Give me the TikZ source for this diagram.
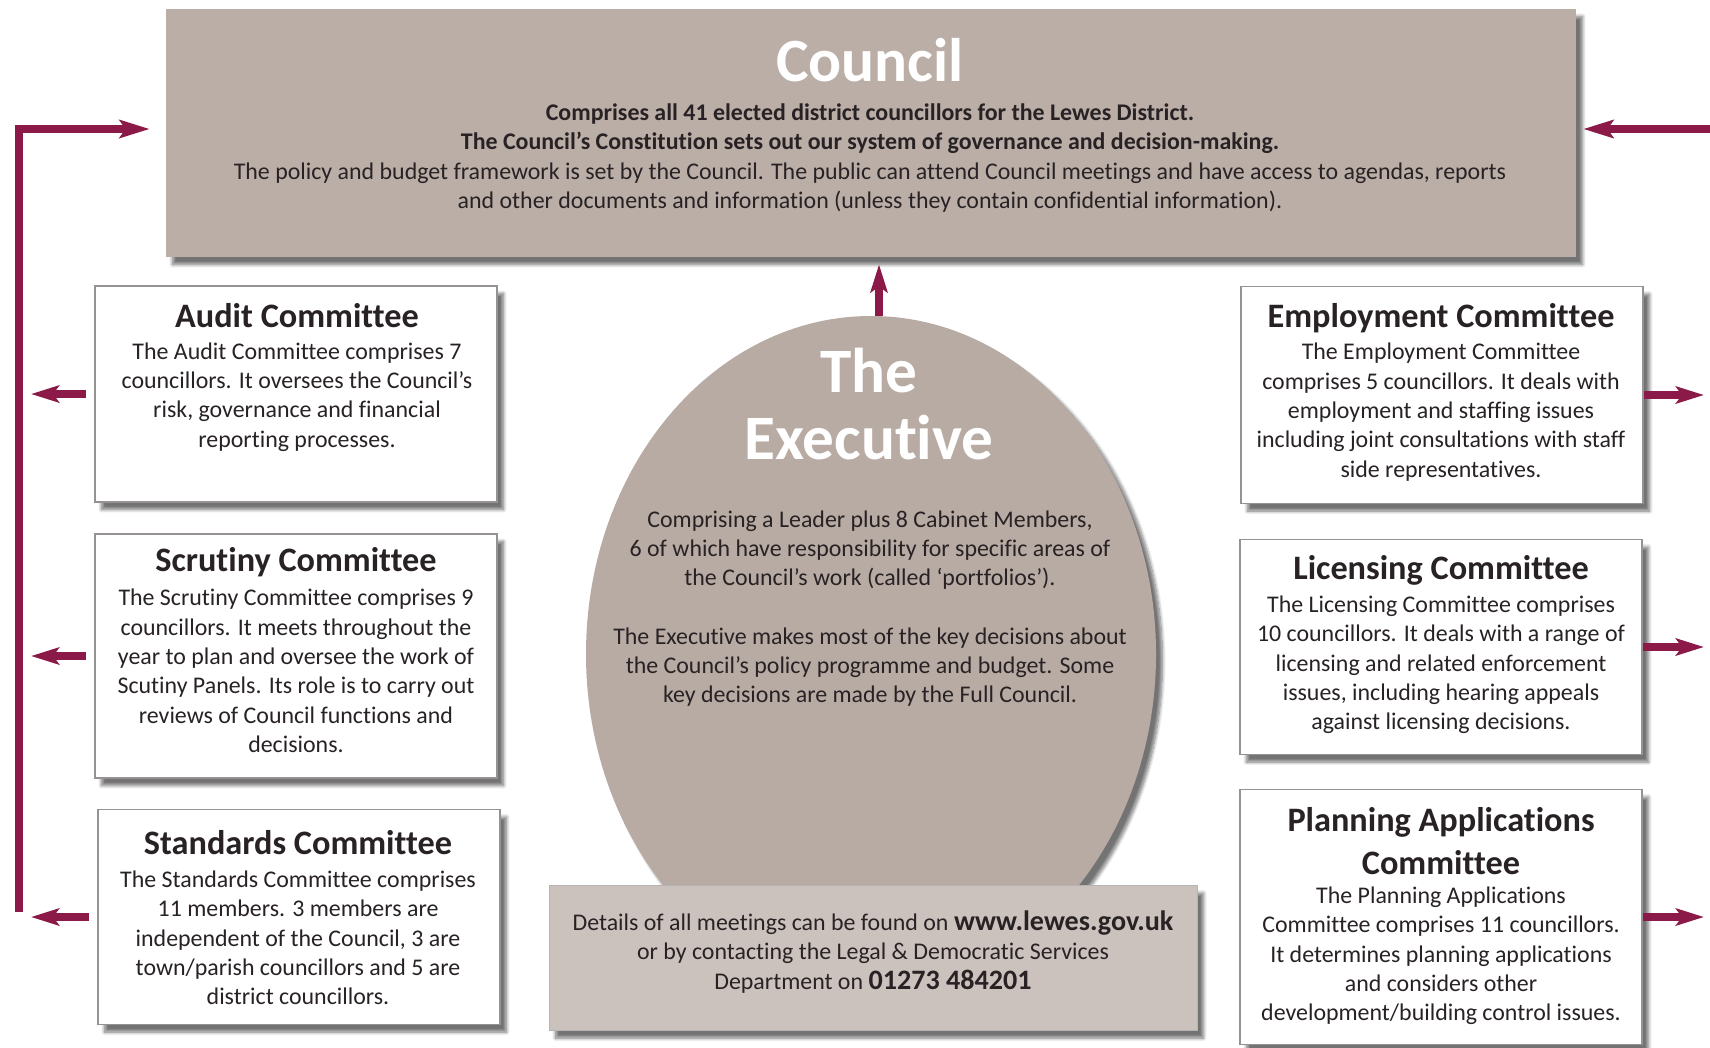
\documentclass[tikz,border=0pt]{standalone}
\usepackage{fontspec}
\setmainfont{Carlito}[Ligatures=NoCommon]
\usetikzlibrary{arrows.meta,positioning,shapes.geometric,shadows.blur}

\definecolor{councilgrey}{RGB}{186,174,167}
\definecolor{execgrey}{RGB}{184,171,164}
\definecolor{notegrey}{RGB}{204,194,189}
\definecolor{linkred}{RGB}{140,26,72}
\definecolor{inktext}{RGB}{40,34,36}
\definecolor{boxedge}{RGB}{150,146,146}

\begin{document}
\begin{tikzpicture}[
    x=0.2mm, y=-0.2mm,
    softshadow/.style={blur shadow={shadow xshift=1.3mm, shadow yshift=-1.5mm,
                       shadow blur steps=8, shadow opacity=55}},
    panel/.style={fill=councilgrey, inner sep=0, softshadow},
    cttee/.style={draw=boxedge, line width=0.3mm, fill=white, inner sep=0,
                  minimum width=80.4mm, softshadow},
    ttl/.style={font=\fontsize{19.5}{22.5}\selectfont\bfseries, text=inktext,
                align=center, inner sep=0},
    body/.style={font=\fontsize{13.6}{16.7}\selectfont, text=inktext,
                 align=center, inner sep=0},
    big/.style={font=\fontsize{36}{38.6}\selectfont\bfseries, text=white,
                align=center, inner sep=0},
    link/.style={draw=linkred, line width=1.5mm, line join=miter,
                 -{Stealth[length=6mm, width=3.6mm, inset=1.2mm]}},
    tolink/.style={draw=linkred, line width=1.6mm,
                   -{Stealth[length=5.6mm, width=3.4mm, inset=1.2mm]}}
  ]
  \useasboundingbox (0,0) rectangle (1710,1047);

  %% Council
  \node[panel, minimum width=282mm, minimum height=49.6mm] (council) at (871,133) {};
  \node[big, font=\fontsize{35}{38}\selectfont\bfseries] (counciltitle) at (870,60) {Council};
  \node[body] (counciltext) at (870,158) {%
    {\bfseries Comprises all 41 elected district councillors for the Lewes District.}\\
    {\bfseries The Council’s Constitution sets out our system of governance and decision-making.}\\
    The policy and budget framework is set by the Council. The public can attend Council meetings and have access to agendas, reports\\
    and other documents and information (unless they contain confidential information).};

  %% The Executive
  \node[ellipse, fill=execgrey, inner sep=0, minimum width=114mm, minimum height=135.2mm,
        softshadow] (exec) at (871,654) {};
  \node[big] (exectitle) at (869,404) {The\\Executive};
  \node[body] (execone) at (870,550) {Comprising a Leader plus 8 Cabinet Members,\\
    6 of which have responsibility for specific areas of\\
    the Council’s work (called ‘portfolios’).};
  \node[body] (exectwo) at (870,667) {The Executive makes most of the key decisions about\\
    the Council’s policy programme and budget. Some\\
    key decisions are made by the Full Council.};

  %% Contact note
  \node[panel, fill=notegrey, draw=boxedge!70, line width=0.2mm,
        minimum width=129.6mm, minimum height=29mm] (note) at (873,958) {};
  \node[body] (notetext) at (873,952) {Details of all meetings can be found on
    {\fontsize{16}{16.7}\selectfont\bfseries www.lewes.gov.uk}\\
    or by contacting the Legal \& Democratic Services\\
    Department on {\fontsize{16}{16.7}\selectfont\bfseries 01273 484201}};

  %% Left committees
  \node[cttee, minimum height=43.2mm] (audit) at (296,394) {};
  \node[ttl] (audittitle) at (297,316) {Audit Committee};
  \node[body] (audittext) at (297,397) {The Audit Committee comprises 7\\
    councillors. It oversees the Council’s\\
    risk, governance and financial\\
    reporting processes.};

  \node[cttee, minimum height=48.8mm] (scrutiny) at (296,656) {};
  \node[ttl] (scrutinytitle) at (296,562) {Scrutiny Committee};
  \node[body] (scrutinytext) at (296,671) {The Scrutiny Committee comprises 9\\
    councillors. It meets throughout the\\
    year to plan and oversee the work of\\
    Scutiny Panels. Its role is to carry out\\
    reviews of Council functions and\\
    decisions.};

  \node[cttee, minimum height=43mm] (standards) at (299,917) {};
  \node[ttl] (standardstitle) at (298,843) {Standards Committee};
  \node[body] (standardstext) at (298,938) {The Standards Committee comprises\\
    11 members. 3 members are\\
    independent of the Council, 3 are\\
    town/parish councillors and 5 are\\
    district councillors.};

  %% Right committees
  \node[cttee, minimum height=43.4mm] (employ) at (1442,395) {};
  \node[ttl] (employtitle) at (1441,318) {Employment Committee};
  \node[body] (employtext) at (1441,412) {The Employment Committee\\
    comprises 5 councillors. It deals with\\
    employment and staffing issues\\
    including joint consultations with staff\\
    side representatives.};

  \node[cttee, minimum height=43mm] (licence) at (1441,647) {};
  \node[ttl] (licencetitle) at (1441,570) {Licensing Committee};
  \node[body] (licencetext) at (1441,665) {The Licensing Committee comprises\\
    10 councillors. It deals with a range of\\
    licensing and related enforcement\\
    issues, including hearing appeals\\
    against licensing decisions.};

  \node[cttee, minimum height=51mm] (planning) at (1441,917) {};
  \node[ttl, font=\fontsize{19.5}{24.5}\selectfont\bfseries] (planningtitle) at (1441,841)
    {Planning Applications\\Committee};
  \node[body] (planningtext) at (1441,956) {The Planning Applications\\
    Committee comprises 11 councillors.\\
    It determines planning applications\\
    and considers other\\
    development/building control issues.};

  %% Rails and arrows
  \coordinate (leftrail) at (19,912);
  \coordinate (rightrail) at (1716,129);
  \draw[link, shorten >=3.2mm] (leftrail) |- ([yshift=0.8mm]council.west);
  \draw[link, shorten >=1.4mm] (rightrail) -- (rightrail -| council.east);
  \draw[tolink, shorten >=1.4mm] ([xshift=1.6mm]exec.north) -- ([xshift=1.6mm]exec.north |- council.south);
  \foreach \cname in {audit,scrutiny,standards}
    \draw[tolink, shorten <=1.6mm, shorten >=2.4mm] (\cname.west) -- (leftrail |- \cname.west);
  \foreach \cname in {employ,licence,planning}
    \draw[tolink, shorten >=2.4mm] (\cname.east) -- (rightrail |- \cname.east);
\end{tikzpicture}
\end{document}
